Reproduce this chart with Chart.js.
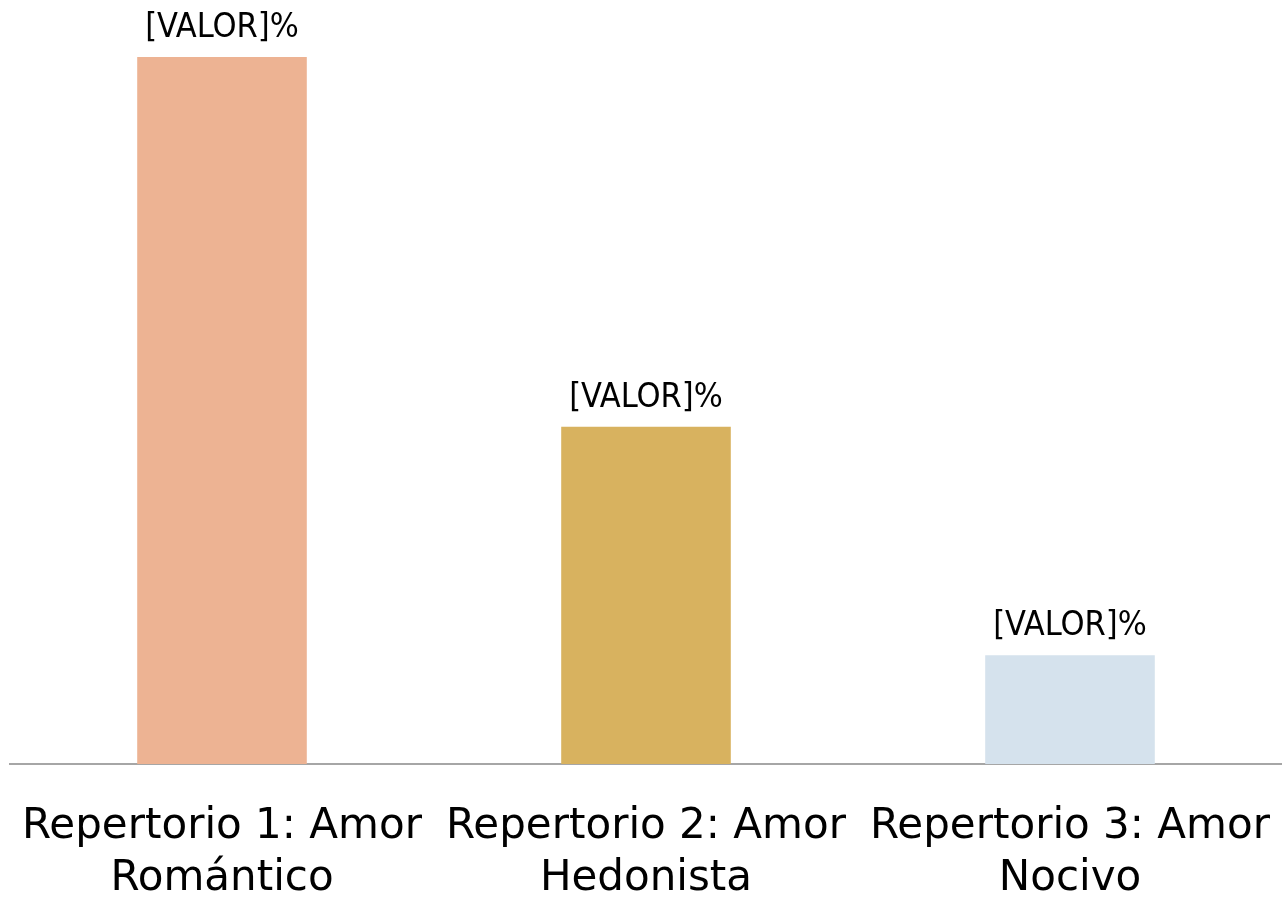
<!DOCTYPE html>
<html>
<head>
<meta charset="utf-8">
<script src="https://cdn.jsdelivr.net/npm/chart.js@4/dist/chart.umd.min.js"></script>
<style>
  html, body { margin: 0; padding: 0; background: #ffffff; overflow: hidden; }
  #wrap { width: 1282px; height: 902px; }
  canvas { display: block; }
</style>
</head>
<body>
<div id="wrap"><canvas id="chart" width="1282" height="902"></canvas></div>
<script>
// Data
const categories = [
  ['Repertorio 1: Amor', 'Romántico'],
  ['Repertorio 2: Amor', 'Hedonista'],
  ['Repertorio 3: Amor', 'Nocivo']
];
const values = [65, 31, 10];
const valueLabels = ['[VALOR]%', '[VALOR]%', '[VALOR]%'];
const barColors = ['#EDB393', '#D8B25F', '#D5E2ED'];

// Value labels above the bars
const valueLabelPlugin = {
  id: 'valueLabels',
  afterDatasetsDraw(chart) {
    const ctx = chart.ctx;
    const meta = chart.getDatasetMeta(0);
    ctx.save();
    ctx.font = '34px "Liberation Sans Narrow", "DejaVu Sans Condensed", sans-serif';
    ctx.fillStyle = '#000000';
    ctx.textAlign = 'center';
    ctx.textBaseline = 'alphabetic';
    meta.data.forEach((bar, i) => {
      ctx.fillText(valueLabels[i], bar.x, bar.y - 20);
    });
    ctx.restore();
  }
};

new Chart(document.getElementById('chart'), {
  type: 'bar',
  data: {
    labels: categories,
    datasets: [{
      data: values,
      backgroundColor: barColors,
      borderWidth: 0,
      categoryPercentage: 1,
      barPercentage: 0.4
    }]
  },
  options: {
    responsive: false,
    animation: false,
    layout: { padding: { top: 57, left: 10, right: 0, bottom: 0 } },
    plugins: {
      legend: { display: false },
      tooltip: { enabled: false }
    },
    scales: {
      y: {
        display: false,
        min: 0,
        max: 65
      },
      x: {
        grid: { display: false, drawTicks: false },
        border: { display: true, color: '#A6A6A6', width: 2 },
        ticks: {
          color: '#000000',
          maxRotation: 0,
          minRotation: 0,
          autoSkip: false,
          padding: 37,
          font: { family: '"DejaVu Sans", sans-serif', size: 42, lineHeight: 1.238 }
        },
        afterFit(scale) {
          scale.height = 138;
          scale.paddingLeft = 0;
          scale.paddingRight = 0;
        }
      }
    }
  },
  plugins: [valueLabelPlugin]
});
</script>
</body>
</html>
